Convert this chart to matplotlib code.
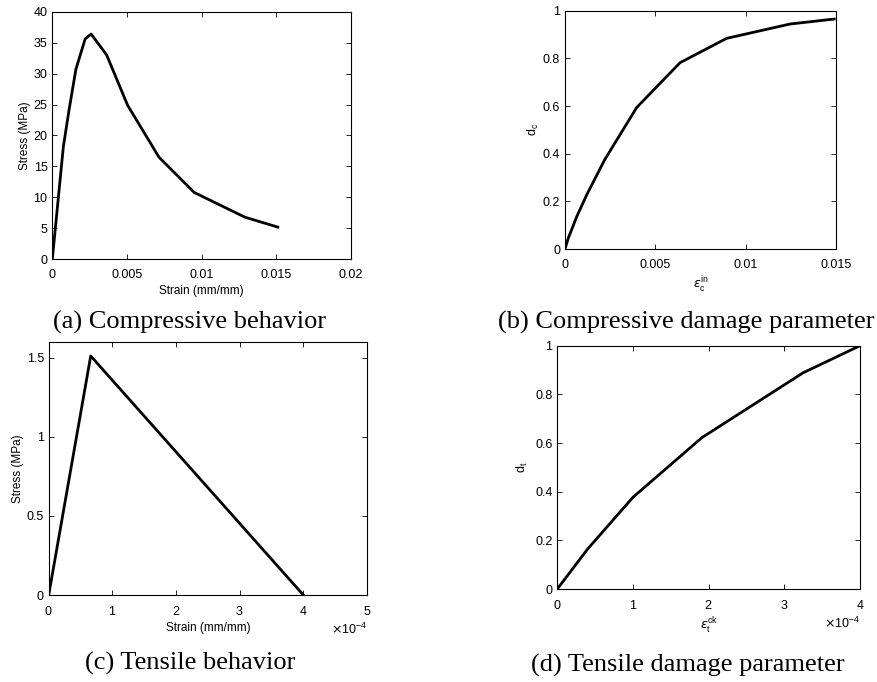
import matplotlib
matplotlib.use("Agg")
import matplotlib.pyplot as plt

plt.rcParams['font.family'] = ['Liberation Sans', 'DejaVu Sans']
plt.rcParams['mathtext.fontset'] = 'dejavusans'

# (a) compressive stress-strain
comp_strain = [0, 0.00074, 0.00112, 0.00158, 0.0022, 0.0026, 0.00364, 0.00504, 0.00714, 0.0095, 0.0129, 0.0151]
comp_stress = [0, 18.2, 24.1, 30.7, 35.6, 36.4, 33.0, 24.9, 16.5, 10.8, 6.8, 5.2]

# (b) compressive damage
inel_strain = [0, 0.00018, 0.00065, 0.0012, 0.0022, 0.00397, 0.00637, 0.00895, 0.01245, 0.0149]
dc = [0, 0.045, 0.136, 0.227, 0.375, 0.594, 0.782, 0.884, 0.944, 0.965]

# (c) tensile stress-strain
ten_strain = [0, 0.66e-4, 4.0e-4]
ten_stress = [0, 1.51, 0]

# (d) tensile damage
crack_strain = [0, 0.40e-4, 1.0e-4, 1.91e-4, 3.25e-4, 4.0e-4]
dt = [0, 0.164, 0.377, 0.622, 0.889, 1.0]

W, H = 878, 682
fig = plt.figure(figsize=(W / 100, H / 100), dpi=100)


def make_axes(left, right, top, bottom):
    ax = fig.add_axes([left / W, 1 - bottom / H, (right - left) / W, (bottom - top) / H])
    ax.tick_params(direction='in', top=True, right=True, labelsize=9, length=3.5, width=0.6)
    ax.tick_params(axis='x', pad=7)
    for s in ax.spines.values():
        s.set_linewidth(0.8)
    return ax


ax = make_axes(52.3, 351, 11.7, 259.3)
ax.plot(comp_strain, comp_stress, 'k-', lw=2)
ax.set_xlim(0, 0.02)
ax.set_ylim(0, 40)
ax.set_xticks([0, 0.005, 0.01, 0.015, 0.02])
ax.set_xticklabels(['0', '0.005', '0.01', '0.015', '0.02'])
ax.set_xlabel('Strain (mm/mm)', fontsize=8.5, labelpad=3)
ax.set_ylabel('Stress (MPa)', fontsize=8.5, labelpad=2)

ax = make_axes(565, 836, 10.7, 249)
ax.plot(inel_strain, dc, 'k-', lw=2)
ax.set_xlim(0, 0.015)
ax.set_ylim(0, 1)
ax.set_xticks([0, 0.005, 0.01, 0.015])
ax.set_xticklabels(['0', '0.005', '0.01', '0.015'])
ax.set_yticks([0, 0.2, 0.4, 0.6, 0.8, 1])
ax.set_yticklabels(['0', '0.2', '0.4', '0.6', '0.8', '1'])
ax.set_xlabel(r'$\epsilon^{\mathregular{in}}_{\mathregular{c}}$', fontsize=9, labelpad=3)
ax.set_ylabel(r'$\mathregular{d_c}$', fontsize=9, labelpad=1)

ax = make_axes(48.7, 367, 341.7, 595)
ax.plot(ten_strain, ten_stress, 'k-', lw=2)
ax.set_xlim(0, 5e-4)
ax.set_ylim(0, 1.6)
ax.set_xticks([0, 1e-4, 2e-4, 3e-4, 4e-4, 5e-4])
ax.set_yticks([0, 0.5, 1, 1.5])
ax.set_yticklabels(['0', '0.5', '1', '1.5'])
ax.ticklabel_format(axis='x', style='sci', scilimits=(0, 0), useMathText=True)
ax.xaxis.get_offset_text().set_fontsize(9)
ax.set_xlabel('Strain (mm/mm)', fontsize=8.5, labelpad=3)
ax.set_ylabel('Stress (MPa)', fontsize=8.5, labelpad=2)

ax = make_axes(557.3, 860, 345.7, 589)
ax.plot(crack_strain, dt, 'k-', lw=2)
ax.set_xlim(0, 4e-4)
ax.set_ylim(0, 1)
ax.set_xticks([0, 1e-4, 2e-4, 3e-4, 4e-4])
ax.set_yticks([0, 0.2, 0.4, 0.6, 0.8, 1])
ax.set_yticklabels(['0', '0.2', '0.4', '0.6', '0.8', '1'])
ax.ticklabel_format(axis='x', style='sci', scilimits=(0, 0), useMathText=True)
ax.xaxis.get_offset_text().set_fontsize(9)
ax.set_xlabel(r'$\epsilon^{\mathregular{ck}}_{\mathregular{t}}$', fontsize=9, labelpad=3)
ax.set_ylabel(r'$\mathregular{d_t}$', fontsize=9, labelpad=4)

captions = [
    ('(a) Compressive behavior', 190, 322),
    ('(b) Compressive damage parameter', 686, 322),
    ('(c) Tensile behavior', 190, 663),
    ('(d) Tensile damage parameter', 688, 665),
]
for text, x, y in captions:
    fig.text(x / W, 1 - y / H, text, ha='center', va='center',
             family='Liberation Serif', fontsize=19)

fig.savefig('out.png', dpi=100)
